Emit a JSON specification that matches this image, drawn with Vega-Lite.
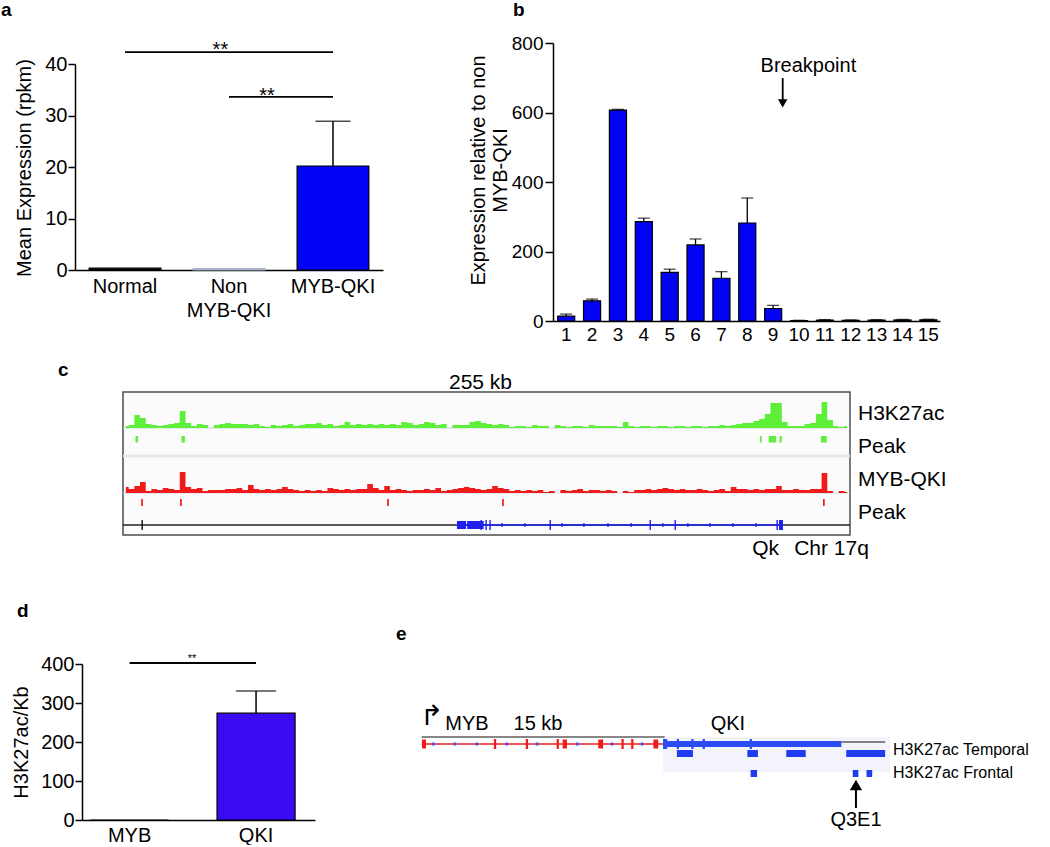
{
"$schema": "https://vega.github.io/schema/vega-lite/v6.json",
"padding": {"left": 1, "top": 1, "right": 0, "bottom": 0},
"background": "white",
"bounds": "full",
"spacing": 0,
"config": {
  "font": "Liberation Sans",
  "view": {"stroke": null},
  "axis": {"domainColor": "#000", "domainWidth": 1.5, "tickColor": "#000", "tickWidth": 1.5, "labelColor": "#000", "titleColor": "#000", "labelFont": "Liberation Sans", "titleFont": "Liberation Sans", "titleFontWeight": "normal", "grid": false, "labelFontSize": 20, "titleFontSize": 20, "labelOverlap": false},
  "title": {"font": "Liberation Sans", "color": "#000"},
  "text": {"font": "Liberation Sans", "color": "#000"}
},
"vconcat": [
 {"hconcat": [
   {"title": {"text": "a", "anchor": "start", "frame": "group", "fontSize": 19, "fontWeight": "bold", "dx": -74, "offset": 20},
    "width": 308, "height": 227,
    "data": {"values": [
      {"group": "Normal", "mean": 0.35},
      {"group": "Non MYB-QKI", "mean": 0.25},
      {"group": "MYB-QKI", "mean": 20.2, "upper": 28.9}
    ]},
    "layer": [
      {"mark": {"type": "bar", "strokeWidth": 1.2},
       "encoding": {
         "x": {"field": "group", "type": "nominal", "scale": {"domain": ["Normal", "Non MYB-QKI", "MYB-QKI"], "paddingInner": 0.31, "paddingOuter": 0.136},
               "axis": {"title": null, "ticks": false, "tickSize": 0, "labelPadding": 6, "labelFontSize": 20, "labelAngle": 0, "labelLineHeight": 24, "labelBaseline": "top", "labelExpr": "datum.label == 'Non MYB-QKI' ? ['Non', 'MYB-QKI'] : datum.label"}},
         "y": {"field": "mean", "type": "quantitative", "scale": {"domain": [0, 44.08], "nice": false}, "axis": {"title": "Mean Expression (rpkm)", "values": [0, 10, 20, 30, 40], "tickSize": 7, "labelPadding": 1, "titlePadding": 10, "titleY": 124.5, "domainDash": [206, 60]}},
         "fill": {"field": "group", "type": "nominal", "scale": {"domain": ["Normal", "Non MYB-QKI", "MYB-QKI"], "range": ["#000000", "#aab4c8", "#0202f5"]}, "legend": null},
         "stroke": {"field": "group", "type": "nominal", "scale": {"domain": ["Normal", "Non MYB-QKI", "MYB-QKI"], "range": ["#000000", "#aab4c8", "#000000"]}, "legend": null}
       }},
      {"transform": [{"filter": "datum.upper != null"}],
       "mark": {"type": "rule", "strokeWidth": 1.5, "color": "#000"},
       "encoding": {"x": {"field": "group", "type": "nominal"}, "y": {"field": "mean", "type": "quantitative"}, "y2": {"field": "upper"}}},
      {"transform": [{"filter": "datum.upper != null"}],
       "mark": {"type": "tick", "size": 35, "thickness": 1.5, "color": "#000"},
       "encoding": {"x": {"field": "group", "type": "nominal"}, "y": {"field": "upper", "type": "quantitative"}}},
      {"data": {"values": [{"from": "Normal", "to": "MYB-QKI", "level": 42.3}, {"from": "Non MYB-QKI", "to": "MYB-QKI", "level": 33.6}]},
       "mark": {"type": "rule", "strokeWidth": 1.8, "color": "#000"},
       "encoding": {"x": {"field": "from", "type": "nominal"}, "x2": {"field": "to"}, "y": {"field": "level", "type": "quantitative"}}},
      {"data": {"values": [{"label": "**"}]},
       "mark": {"type": "text", "fontSize": 20, "baseline": "alphabetic", "color": "#000"},
       "encoding": {"x": {"datum": "Non MYB-QKI", "type": "nominal", "bandPosition": 0.38}, "y": {"datum": 41.5, "type": "quantitative"}, "text": {"field": "label"}}},
      {"data": {"values": [{"label": "**"}]},
       "mark": {"type": "text", "fontSize": 20, "baseline": "alphabetic", "color": "#000"},
       "encoding": {"x": {"datum": "Non MYB-QKI", "type": "nominal", "bandPosition": 1.03}, "y": {"datum": 32.7, "type": "quantitative"}, "text": {"field": "label"}}}
    ]},
   {"width": 170, "height": 1, "data": {"values": []}, "mark": {"type": "point", "opacity": 0}},
   {"title": {"text": "b", "anchor": "start", "frame": "group", "fontSize": 19, "fontWeight": "bold", "dx": -40, "offset": 14},
    "width": 387, "height": 278,
    "data": {"values": [
      {"ex": "1", "v": 14, "up": 20}, {"ex": "2", "v": 58, "up": 63}, {"ex": "3", "v": 607, "up": 609},
      {"ex": "4", "v": 286, "up": 296}, {"ex": "5", "v": 140, "up": 149}, {"ex": "6", "v": 219, "up": 236},
      {"ex": "7", "v": 123, "up": 142}, {"ex": "8", "v": 282, "up": 354}, {"ex": "9", "v": 36, "up": 45},
      {"ex": "10", "v": 1, "up": 2}, {"ex": "11", "v": 2.5, "up": 4}, {"ex": "12", "v": 2, "up": 3},
      {"ex": "13", "v": 2.5, "up": 4}, {"ex": "14", "v": 3, "up": 4.5}, {"ex": "15", "v": 3.5, "up": 5}
    ]},
    "layer": [
      {"mark": {"type": "bar", "fill": "#0202f5", "stroke": "#000", "strokeWidth": 1.2},
       "encoding": {
         "x": {"field": "ex", "type": "ordinal", "scale": {"domain": ["1","2","3","4","5","6","7","8","9","10","11","12","13","14","15"], "paddingInner": 0.34, "paddingOuter": 0.15, "align": 0.6},
               "axis": {"title": null, "ticks": false, "tickSize": 0, "labelPadding": 4, "labelFontSize": 19, "labelAngle": 0, "labelBaseline": "top"}},
         "y": {"field": "v", "type": "quantitative", "scale": {"domain": [0, 800], "nice": false},
               "axis": {"title": ["Expression relative to non", "MYB-QKI"], "titleLineHeight": 22, "titleY": 127, "values": [0, 200, 400, 600, 800], "tickSize": 8, "labelPadding": 2, "labelFontSize": 19, "titlePadding": 1}}
       }},
      {"mark": {"type": "rule", "strokeWidth": 1.3, "color": "#000"},
       "encoding": {"x": {"field": "ex", "type": "ordinal"}, "y": {"field": "v", "type": "quantitative"}, "y2": {"field": "up"}}},
      {"mark": {"type": "tick", "size": 12, "thickness": 1.3, "color": "#000"},
       "encoding": {"x": {"field": "ex", "type": "ordinal"}, "y": {"field": "up", "type": "quantitative"}}},
      {"data": {"values": [{"after": "9", "label": "Breakpoint"}]},
       "layer": [
         {"mark": {"type": "text", "fontSize": 20, "align": "left", "baseline": "alphabetic", "dx": -4, "color": "#000"},
          "encoding": {"x": {"field": "after", "type": "ordinal", "bandPosition": 0}, "y": {"datum": 716, "type": "quantitative"}, "text": {"field": "label"}}},
         {"mark": {"type": "rule", "strokeWidth": 1.8, "color": "#000"},
          "encoding": {"x": {"field": "after", "type": "ordinal", "bandPosition": 1.06}, "y": {"datum": 699, "type": "quantitative"}, "y2": {"datum": 632}}},
         {"mark": {"type": "point", "shape": "triangle-down", "filled": true, "size": 90, "color": "#000", "opacity": 1},
          "encoding": {"x": {"field": "after", "type": "ordinal", "bandPosition": 1.06}, "y": {"datum": 626, "type": "quantitative"}}}
       ]}
    ]}
 ], "spacing": 0, "bounds": "flush"},
 {"width": 1, "height": 17, "data": {"values": []}, "mark": {"type": "point", "opacity": 0}},
 {"hconcat": [
   {"title": {"text": "c", "anchor": "start", "frame": "group", "fontSize": 19, "fontWeight": "bold", "dx": -17, "offset": 12},
    "width": 48, "height": 143, "data": {"values": []}, "mark": {"type": "point", "opacity": 0}},
   {"title": {"text": "255 kb", "anchor": "middle", "fontSize": 21, "fontWeight": "normal", "dx": -6, "offset": -1},
    "width": 727, "height": 143,
    "view": {"stroke": "#4d4d4d", "strokeWidth": 1.5, "fill": "#fbfbfc"},
    "resolve": {"scale": {"y": "independent"}},
    "layer": [
      {"data": {"values": [{"s": 0, "e": 256}]},
       "mark": {"type": "rule", "color": "#cfd6e0", "strokeWidth": 1},
       "encoding": {"x": {"field": "s", "type": "quantitative", "scale": {"domain": [0, 256], "nice": false, "zero": false}, "axis": null}, "x2": {"field": "e"}, "y": {"datum": 0, "type": "quantitative", "scale": {"domain": [-107, 36]}, "axis": null}}},
      {"data": {"name": "sig", "values": [
        {"kb":1,"g":2,"r":6},{"kb":3,"g":3,"r":4},{"kb":5,"g":13,"r":7},{"kb":7,"g":10,"r":11},{"kb":9,"g":4,"r":2},
        {"kb":11,"g":3,"r":4},{"kb":13,"g":2,"r":3},{"kb":15,"g":3,"r":5},{"kb":17,"g":4,"r":4},{"kb":19,"g":5,"r":3},
        {"kb":21,"g":17,"r":21},{"kb":23,"g":5,"r":6},{"kb":25,"g":2,"r":4},{"kb":27,"g":4,"r":5},{"kb":29,"g":3,"r":2},
        {"kb":31,"g":0,"r":3},{"kb":33,"g":3,"r":3},{"kb":35,"g":4,"r":3},{"kb":37,"g":5,"r":4},{"kb":39,"g":4,"r":4},
        {"kb":41,"g":4,"r":5},{"kb":43,"g":4,"r":3},{"kb":45,"g":3,"r":8},{"kb":47,"g":4,"r":4},{"kb":49,"g":2,"r":3},
        {"kb":51,"g":1,"r":4},{"kb":53,"g":3,"r":3},{"kb":55,"g":2,"r":4},{"kb":57,"g":3,"r":6},{"kb":59,"g":4,"r":4},
        {"kb":61,"g":2,"r":3},{"kb":63,"g":3,"r":2},{"kb":65,"g":4,"r":3},{"kb":67,"g":4,"r":2},{"kb":69,"g":5,"r":3},
        {"kb":71,"g":3,"r":2},{"kb":73,"g":4,"r":5},{"kb":75,"g":2,"r":4},{"kb":77,"g":3,"r":3},{"kb":79,"g":6,"r":4},
        {"kb":81,"g":3,"r":3},{"kb":83,"g":4,"r":4},{"kb":85,"g":3,"r":4},{"kb":87,"g":4,"r":9},{"kb":89,"g":3,"r":5},
        {"kb":91,"g":4,"r":3},{"kb":93,"g":3,"r":7},{"kb":95,"g":4,"r":3},{"kb":97,"g":3,"r":4},{"kb":99,"g":6,"r":3},
        {"kb":101,"g":5,"r":2},{"kb":103,"g":3,"r":3},{"kb":105,"g":4,"r":3},{"kb":107,"g":6,"r":4},{"kb":109,"g":5,"r":3},
        {"kb":111,"g":3,"r":5},{"kb":113,"g":4,"r":2},{"kb":115,"g":0,"r":3},{"kb":117,"g":3,"r":4},{"kb":119,"g":3,"r":5},
        {"kb":121,"g":3,"r":6},{"kb":123,"g":6,"r":5},{"kb":125,"g":7,"r":4},{"kb":127,"g":5,"r":3},{"kb":129,"g":4,"r":4},
        {"kb":131,"g":3,"r":7},{"kb":133,"g":4,"r":5},{"kb":135,"g":3,"r":4},{"kb":137,"g":1,"r":2},{"kb":139,"g":2,"r":3},
        {"kb":141,"g":2,"r":2},{"kb":143,"g":1,"r":3},{"kb":145,"g":3,"r":2},{"kb":147,"g":2,"r":3},{"kb":149,"g":2,"r":1},
        {"kb":151,"g":0,"r":2},{"kb":153,"g":3,"r":0},{"kb":155,"g":2,"r":3},{"kb":157,"g":1,"r":2},{"kb":159,"g":2,"r":3},
        {"kb":161,"g":2,"r":4},{"kb":163,"g":1,"r":2},{"kb":165,"g":3,"r":3},{"kb":167,"g":2,"r":3},{"kb":169,"g":2,"r":2},
        {"kb":171,"g":2,"r":3},{"kb":173,"g":2,"r":2},{"kb":175,"g":1,"r":0},{"kb":177,"g":6,"r":2},{"kb":179,"g":2,"r":1},
        {"kb":181,"g":1,"r":3},{"kb":183,"g":2,"r":3},{"kb":185,"g":2,"r":4},{"kb":187,"g":1,"r":3},{"kb":189,"g":2,"r":4},
        {"kb":191,"g":2,"r":5},{"kb":193,"g":1,"r":4},{"kb":195,"g":2,"r":3},{"kb":197,"g":2,"r":4},{"kb":199,"g":1,"r":3},
        {"kb":201,"g":2,"r":3},{"kb":203,"g":2,"r":4},{"kb":205,"g":1,"r":3},{"kb":207,"g":2,"r":2},{"kb":209,"g":2,"r":3},
        {"kb":211,"g":3,"r":4},{"kb":213,"g":2,"r":2},{"kb":215,"g":3,"r":6},{"kb":217,"g":4,"r":4},{"kb":219,"g":5,"r":4},
        {"kb":221,"g":5,"r":3},{"kb":223,"g":7,"r":4},{"kb":225,"g":9,"r":3},{"kb":227,"g":14,"r":4},{"kb":229,"g":25,"r":4},
        {"kb":231,"g":25,"r":7},{"kb":233,"g":6,"r":3},{"kb":235,"g":2,"r":3},{"kb":237,"g":2,"r":4},{"kb":239,"g":2,"r":3},
        {"kb":241,"g":4,"r":3},{"kb":243,"g":5,"r":4},{"kb":245,"g":14,"r":4},{"kb":247,"g":26,"r":20},{"kb":249,"g":8,"r":2},
        {"kb":251,"g":2,"r":0},{"kb":253,"g":1,"r":2},{"kb":255,"g":2,"r":1}
      ]},
       "mark": {"type": "area", "interpolate": "step", "color": "#5ef038"},
       "encoding": {"x": {"field": "kb", "type": "quantitative", "scale": {"domain": [0, 256], "nice": false, "zero": false}, "axis": null}, "y": {"field": "g", "type": "quantitative", "scale": {"domain": [-107, 36]}, "axis": null}, "y2": {"datum": 0}}},
      {"data": {"values": [{"s":4.4,"e":5.3},{"s":20.6,"e":21.8},{"s":224.3,"e":224.9},{"s":227.4,"e":230.0},{"s":231.2,"e":232.0},{"s":245.8,"e":247.8}]},
       "mark": {"type": "rect", "color": "#5ef038"},
       "encoding": {"x": {"field": "s", "type": "quantitative", "scale": {"domain": [0, 256], "nice": false, "zero": false}, "axis": null}, "x2": {"field": "e"}, "y": {"datum": -8, "type": "quantitative", "scale": {"domain": [-107, 36]}, "axis": null}, "y2": {"datum": -14.5}}},
      {"data": {"values": [{"s": 0, "e": 256}]},
       "mark": {"type": "rule", "color": "#e3e8ee", "strokeWidth": 2.5},
       "encoding": {"x": {"field": "s", "type": "quantitative", "scale": {"domain": [0, 256], "nice": false, "zero": false}, "axis": null}, "x2": {"field": "e"}, "y": {"datum": -28, "type": "quantitative", "scale": {"domain": [-107, 36]}, "axis": null}}},
      {"data": {"values": [{"s": 0, "e": 256}]},
       "mark": {"type": "rule", "color": "#cfd6e0", "strokeWidth": 1},
       "encoding": {"x": {"field": "s", "type": "quantitative", "scale": {"domain": [0, 256], "nice": false, "zero": false}, "axis": null}, "x2": {"field": "e"}, "y": {"datum": 0, "type": "quantitative", "scale": {"domain": [-42, 101]}, "axis": null}}},
      {"data": {"name": "sig"},
       "mark": {"type": "area", "interpolate": "step", "color": "#f21b1b"},
       "encoding": {"x": {"field": "kb", "type": "quantitative", "scale": {"domain": [0, 256], "nice": false, "zero": false}, "axis": null}, "y": {"field": "r", "type": "quantitative", "scale": {"domain": [-42, 101]}, "axis": null}, "y2": {"datum": 0}}},
      {"data": {"values": [{"s":6.4,"e":7.0},{"s":20.1,"e":20.7},{"s":93.0,"e":93.6},{"s":133.5,"e":134.1},{"s":246.5,"e":247.1}]},
       "mark": {"type": "rect", "color": "#f21b1b"},
       "encoding": {"x": {"field": "s", "type": "quantitative", "scale": {"domain": [0, 256], "nice": false, "zero": false}, "axis": null}, "x2": {"field": "e"}, "y": {"datum": -6, "type": "quantitative", "scale": {"domain": [-42, 101]}, "axis": null}, "y2": {"datum": -13}}},
      {"data": {"values": [{"s": 0, "e": 256}]},
       "mark": {"type": "rule", "color": "#222", "strokeWidth": 1.5},
       "encoding": {"x": {"field": "s", "type": "quantitative", "scale": {"domain": [0, 256], "nice": false, "zero": false}, "axis": null}, "x2": {"field": "e"}, "y": {"datum": -32, "type": "quantitative", "scale": {"domain": [-42, 101]}, "axis": null}}},
      {"data": {"values": [{"s": 6.5, "e": 7.0}]},
       "mark": {"type": "rect", "color": "#111"},
       "encoding": {"x": {"field": "s", "type": "quantitative", "scale": {"domain": [0, 256], "nice": false, "zero": false}, "axis": null}, "x2": {"field": "e"}, "y": {"datum": -27, "type": "quantitative", "scale": {"domain": [-42, 101]}, "axis": null}, "y2": {"datum": -37}}},
      {"data": {"values": [{"s": 117.6, "e": 232.0}]},
       "mark": {"type": "rule", "color": "#2020ee", "strokeWidth": 1.5},
       "encoding": {"x": {"field": "s", "type": "quantitative", "scale": {"domain": [0, 256], "nice": false, "zero": false}, "axis": null}, "x2": {"field": "e"}, "y": {"datum": -32, "type": "quantitative", "scale": {"domain": [-42, 101]}, "axis": null}}},
      {"data": {"values": [{"s":117.6,"e":120.8},{"s":121.2,"e":127.0}]},
       "mark": {"type": "rect", "color": "#2020ee"},
       "encoding": {"x": {"field": "s", "type": "quantitative", "scale": {"domain": [0, 256], "nice": false, "zero": false}, "axis": null}, "x2": {"field": "e"}, "y": {"datum": -28, "type": "quantitative", "scale": {"domain": [-42, 101]}, "axis": null}, "y2": {"datum": -36}}},
      {"data": {"values": [{"s":125.9,"e":126.4},{"s":127.6,"e":128.1},{"s":129.0,"e":129.5},{"s":150.2,"e":150.7},{"s":185.4,"e":185.9},{"s":194.2,"e":194.7},{"s":230.1,"e":230.6},{"s":231.0,"e":232.4}]},
       "mark": {"type": "rect", "color": "#2020ee"},
       "encoding": {"x": {"field": "s", "type": "quantitative", "scale": {"domain": [0, 256], "nice": false, "zero": false}, "axis": null}, "x2": {"field": "e"}, "y": {"datum": -27, "type": "quantitative", "scale": {"domain": [-42, 101]}, "axis": null}, "y2": {"datum": -37}}},
      {"data": {"values": [{"s":133.2,"e":133.8},{"s":141.2,"e":141.8},{"s":154.3,"e":154.9},{"s":162.0,"e":162.6},{"s":170.5,"e":171.1},{"s":178.6,"e":179.2},{"s":189.8,"e":190.4},{"s":198.6,"e":199.2},{"s":206.4,"e":207.0},{"s":214.5,"e":215.1},{"s":222.6,"e":223.2}]},
       "mark": {"type": "rect", "color": "#2020ee"},
       "encoding": {"x": {"field": "s", "type": "quantitative", "scale": {"domain": [0, 256], "nice": false, "zero": false}, "axis": null}, "x2": {"field": "e"}, "y": {"datum": -30.3, "type": "quantitative", "scale": {"domain": [-42, 101]}, "axis": null}, "y2": {"datum": -33.7}}},
      {"data": {"values": [{"key": "k1", "label": "H3K27ac"}, {"key": "k2", "label": "Peak"}, {"key": "k3", "label": "MYB-QKI"}, {"key": "k4", "label": "Peak"}]},
       "mark": {"type": "text", "fontSize": 21, "align": "left", "baseline": "middle", "dx": 8, "color": "#000"},
       "encoding": {"x": {"datum": 256, "type": "quantitative", "scale": {"domain": [0, 256], "nice": false, "zero": false}, "axis": null}, "y": {"field": "key", "type": "ordinal", "scale": {"type": "point", "padding": 0.667, "domain": ["k1", "k2", "k3", "k4"]}, "axis": null}, "text": {"field": "label"}}},
      {"data": {"values": [{"kb": 226.3, "label": "Qk"}, {"kb": 249.5, "label": "Chr 17q"}]},
       "mark": {"type": "text", "fontSize": 21, "align": "center", "baseline": "middle", "color": "#000"},
       "encoding": {"x": {"field": "kb", "type": "quantitative", "scale": {"domain": [0, 256], "nice": false, "zero": false}, "axis": null}, "y": {"datum": -56, "type": "quantitative", "scale": {"domain": [-42, 101]}, "axis": null}, "text": {"field": "label"}}}
    ]}
 ], "spacing": 0, "bounds": "flush"},
 {"width": 1, "height": 42, "data": {"values": []}, "mark": {"type": "point", "opacity": 0}},
 {"hconcat": [
   {"width": 7, "height": 1, "data": {"values": []}, "mark": {"type": "point", "opacity": 0}},
   {"title": {"text": "d", "anchor": "start", "frame": "group", "fontSize": 19, "fontWeight": "bold", "dx": -65, "offset": 32},
    "width": 233, "height": 156,
    "data": {"values": [{"g": "MYB", "v": 0}, {"g": "QKI", "v": 274, "up": 331}]},
    "layer": [
      {"mark": {"type": "bar", "fill": "#3a0af2", "stroke": "#000", "strokeWidth": 1.2},
       "encoding": {
         "x": {"field": "g", "type": "nominal", "scale": {"domain": ["MYB", "QKI"], "paddingInner": 0.383, "paddingOuter": 0.1125, "align": 0.3},
               "axis": {"title": null, "ticks": false, "tickSize": 0, "labelPadding": 5, "labelFontSize": 20, "labelAngle": 0, "labelBaseline": "top"}},
         "y": {"field": "v", "type": "quantitative", "scale": {"domain": [0, 400], "nice": false},
               "axis": {"title": "H3K27ac/Kb", "values": [0, 100, 200, 300, 400], "tickCount": 5, "labelOverlap": false, "labelSeparation": 0, "tickSize": 7, "labelPadding": 1, "titlePadding": 9}}
       }},
      {"transform": [{"filter": "datum.up != null"}],
       "mark": {"type": "rule", "strokeWidth": 1.5, "color": "#000"},
       "encoding": {"x": {"field": "g", "type": "nominal"}, "y": {"field": "v", "type": "quantitative"}, "y2": {"field": "up"}}},
      {"transform": [{"filter": "datum.up != null"}],
       "mark": {"type": "tick", "size": 40, "thickness": 1.5, "color": "#000"},
       "encoding": {"x": {"field": "g", "type": "nominal"}, "y": {"field": "up", "type": "quantitative"}}},
      {"data": {"values": [{"from": "MYB", "to": "QKI", "level": 402.6}]},
       "mark": {"type": "rule", "strokeWidth": 1.8, "color": "#000"},
       "encoding": {"x": {"field": "from", "type": "nominal"}, "x2": {"field": "to"}, "y": {"field": "level", "type": "quantitative"}}},
      {"data": {"values": [{"label": "**"}]},
       "mark": {"type": "text", "fontSize": 11, "baseline": "alphabetic", "color": "#000"},
       "encoding": {"x": {"datum": "MYB", "type": "nominal", "bandPosition": 1.3}, "y": {"datum": 404, "type": "quantitative"}, "text": {"field": "label"}}}
    ]},
   {"width": 105, "height": 1, "data": {"values": []}, "mark": {"type": "point", "opacity": 0}},
   {"title": {"text": "e", "anchor": "start", "frame": "group", "fontSize": 19, "fontWeight": "bold", "dx": -24, "offset": 20},
    "width": 470, "height": 166,
    "data": {"values": [
      {"k": "bg", "s": 15.0, "e": 29.0},
      {"k": "scale", "s": 0.1, "e": 15.1},
      {"k": "line2", "s": 26.0, "e": 28.7},
      {"k": "myb", "s": 0.1, "e": 15.0},
      {"k": "mybTall", "s": 4.56, "e": 4.7}, {"k": "mybTall", "s": 6.53, "e": 6.67}, {"k": "mybTall", "s": 8.43, "e": 8.57}, {"k": "mybTall", "s": 12.43, "e": 12.57}, {"k": "mybTall", "s": 13.03, "e": 13.17},
      {"k": "mybBlock", "s": 0.12, "e": 0.37}, {"k": "mybBlock", "s": 8.8, "e": 9.07}, {"k": "mybBlock", "s": 11.0, "e": 11.3}, {"k": "mybBlock", "s": 14.4, "e": 14.7},
      {"k": "mark", "s": 0.75, "e": 0.9}, {"k": "mark", "s": 2.08, "e": 2.23}, {"k": "mark", "s": 3.43, "e": 3.58}, {"k": "mark", "s": 5.28, "e": 5.43}, {"k": "mark", "s": 7.15, "e": 7.3}, {"k": "mark", "s": 9.62, "e": 9.77}, {"k": "mark", "s": 11.77, "e": 11.92}, {"k": "mark", "s": 13.63, "e": 13.78},
      {"k": "qki", "s": 15.0, "e": 26.0},
      {"k": "qkiTall", "s": 15.0, "e": 15.25}, {"k": "qkiTall", "s": 15.84, "e": 15.98}, {"k": "qkiTall", "s": 16.74, "e": 16.88}, {"k": "qkiTall", "s": 17.44, "e": 17.58}, {"k": "qkiTall", "s": 20.34, "e": 20.48},
      {"k": "temporal", "s": 15.85, "e": 16.84}, {"k": "temporal", "s": 20.2, "e": 20.85}, {"k": "temporal", "s": 22.6, "e": 23.8}, {"k": "temporal", "s": 26.3, "e": 28.7},
      {"k": "frontal", "s": 20.4, "e": 20.8}, {"k": "frontal", "s": 26.7, "e": 27.05}, {"k": "frontal", "s": 27.55, "e": 27.9}
    ]},
    "layer": [
      {"transform": [{"filter": "datum.k == 'bg'"}],
       "mark": {"type": "rect", "color": "#f3f4fb"},
       "encoding": {"x": {"field": "s", "type": "quantitative", "scale": {"domain": [0, 29], "nice": false, "zero": false}, "axis": null}, "x2": {"field": "e"}, "y": {"datum": 73, "type": "quantitative", "scale": {"domain": [166, 0], "nice": false, "zero": false}, "axis": null}, "y2": {"datum": 108}}},
      {"transform": [{"filter": "datum.k == 'scale'"}],
       "mark": {"type": "rule", "color": "#111", "strokeWidth": 1.2},
       "encoding": {"x": {"field": "s", "type": "quantitative"}, "x2": {"field": "e"}, "y": {"datum": 73, "type": "quantitative"}}},
      {"transform": [{"filter": "datum.k == 'line2'"}],
       "mark": {"type": "rule", "color": "#111", "strokeWidth": 1.2},
       "encoding": {"x": {"field": "s", "type": "quantitative"}, "x2": {"field": "e"}, "y": {"datum": 78, "type": "quantitative"}}},
      {"transform": [{"filter": "datum.k == 'myb'"}],
       "mark": {"type": "rule", "color": "#ee1c1c", "strokeWidth": 1.5},
       "encoding": {"x": {"field": "s", "type": "quantitative"}, "x2": {"field": "e"}, "y": {"datum": 80, "type": "quantitative"}}},
      {"transform": [{"filter": "datum.k == 'mybTall'"}],
       "mark": {"type": "rect", "color": "#ee1c1c"},
       "encoding": {"x": {"field": "s", "type": "quantitative"}, "x2": {"field": "e"}, "y": {"datum": 75, "type": "quantitative"}, "y2": {"datum": 85}}},
      {"transform": [{"filter": "datum.k == 'mybBlock'"}],
       "mark": {"type": "rect", "color": "#ee1c1c"},
       "encoding": {"x": {"field": "s", "type": "quantitative"}, "x2": {"field": "e"}, "y": {"datum": 75.5, "type": "quantitative"}, "y2": {"datum": 84.5}}},
      {"transform": [{"filter": "datum.k == 'mark'"}],
       "mark": {"type": "rect", "color": "#3355ee"},
       "encoding": {"x": {"field": "s", "type": "quantitative"}, "x2": {"field": "e"}, "y": {"datum": 78.5, "type": "quantitative"}, "y2": {"datum": 81.5}}},
      {"transform": [{"filter": "datum.k == 'qki'"}],
       "mark": {"type": "rect", "color": "#2a4cf2"},
       "encoding": {"x": {"field": "s", "type": "quantitative"}, "x2": {"field": "e"}, "y": {"datum": 77, "type": "quantitative"}, "y2": {"datum": 83}}},
      {"transform": [{"filter": "datum.k == 'qkiTall'"}],
       "mark": {"type": "rect", "color": "#2a4cf2"},
       "encoding": {"x": {"field": "s", "type": "quantitative"}, "x2": {"field": "e"}, "y": {"datum": 75, "type": "quantitative"}, "y2": {"datum": 85}}},
      {"transform": [{"filter": "datum.k == 'temporal'"}],
       "mark": {"type": "rect", "color": "#1f3cf0"},
       "encoding": {"x": {"field": "s", "type": "quantitative"}, "x2": {"field": "e"}, "y": {"datum": 86, "type": "quantitative"}, "y2": {"datum": 93}}},
      {"transform": [{"filter": "datum.k == 'frontal'"}],
       "mark": {"type": "rect", "color": "#1f3cf0"},
       "encoding": {"x": {"field": "s", "type": "quantitative"}, "x2": {"field": "e"}, "y": {"datum": 106, "type": "quantitative"}, "y2": {"datum": 113}}},
      {"data": {"values": [{"kb": 2.9, "label": "MYB"}, {"kb": 7.28, "label": "15 kb"}, {"kb": 19.0, "label": "QKI"}]},
       "mark": {"type": "text", "fontSize": 20, "align": "center", "baseline": "middle", "color": "#000"},
       "encoding": {"x": {"field": "kb", "type": "quantitative"}, "y": {"datum": 60, "type": "quantitative"}, "text": {"field": "label"}}},
      {"data": {"values": [{"kb": 0.0, "label": "↱"}]},
       "mark": {"type": "text", "fontSize": 28, "align": "left", "baseline": "middle", "font": "DejaVu Sans", "color": "#000"},
       "encoding": {"x": {"field": "kb", "type": "quantitative"}, "y": {"datum": 53, "type": "quantitative"}, "text": {"field": "label"}}},
      {"data": {"values": [{"kb": 29, "label": "H3K27ac Temporal"}]},
       "mark": {"type": "text", "fontSize": 16, "align": "left", "baseline": "middle", "dx": 3, "color": "#000"},
       "encoding": {"x": {"field": "kb", "type": "quantitative"}, "y": {"datum": 86, "type": "quantitative"}, "text": {"field": "label"}}},
      {"data": {"values": [{"kb": 29, "label": "H3K27ac Frontal"}]},
       "mark": {"type": "text", "fontSize": 16, "align": "left", "baseline": "middle", "dx": 3, "color": "#000"},
       "encoding": {"x": {"field": "kb", "type": "quantitative"}, "y": {"datum": 109, "type": "quantitative"}, "text": {"field": "label"}}},
      {"data": {"values": [{"kb": 26.9, "label": "Q3E1"}]},
       "layer": [
         {"mark": {"type": "rule", "color": "#000", "strokeWidth": 2},
          "encoding": {"x": {"field": "kb", "type": "quantitative"}, "y": {"datum": 124, "type": "quantitative"}, "y2": {"datum": 144}}},
         {"mark": {"type": "point", "shape": "triangle-up", "filled": true, "size": 150, "color": "#000", "opacity": 1},
          "encoding": {"x": {"field": "kb", "type": "quantitative"}, "y": {"datum": 121, "type": "quantitative"}}},
         {"mark": {"type": "text", "fontSize": 20, "align": "center", "baseline": "middle", "color": "#000"},
          "encoding": {"x": {"field": "kb", "type": "quantitative"}, "y": {"datum": 156, "type": "quantitative"}, "text": {"field": "label"}}}
       ]}
    ]}
 ], "spacing": 0, "bounds": "flush"}
]
}
